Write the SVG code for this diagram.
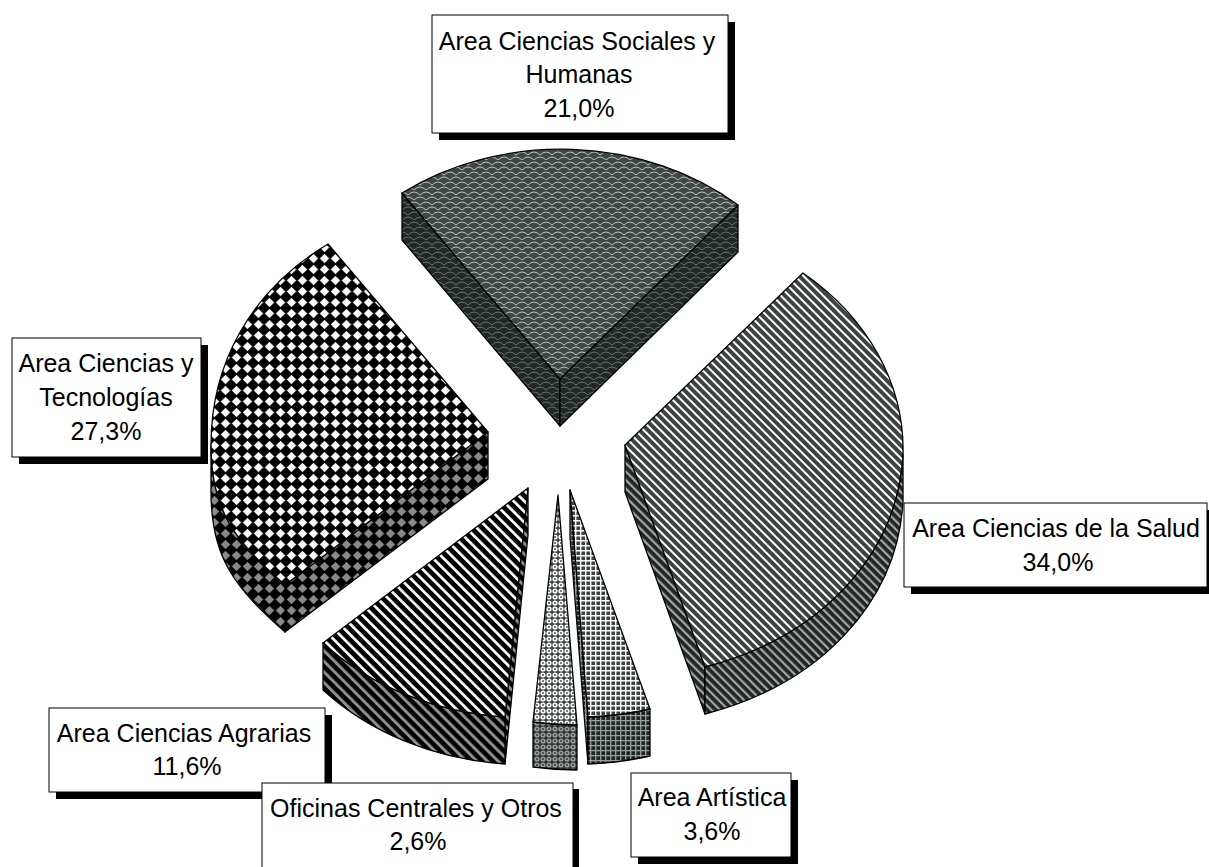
<svg xmlns="http://www.w3.org/2000/svg" width="1209" height="867" viewBox="0 0 1209 867">
<style>
.edge{stroke:#000;stroke-width:1.3;stroke-linejoin:round}
.box{fill:#fff;stroke:#000;stroke-width:1}
.shadow{fill:#000}
.lbl{font-family:"Liberation Sans",Arial,sans-serif;font-size:25px;fill:#000;text-anchor:middle}
</style>
<defs>
<pattern id="socTop" width="12" height="10" patternUnits="userSpaceOnUse">
<rect width="12" height="10" fill="#3f4745"/>
<path d="M0 5 Q6 -1 12 5 M-6 10 Q0 4 6 10 M6 10 Q12 4 18 10" fill="none" stroke="#c8cccb" stroke-width="0.9"/>
</pattern>
<pattern id="socSide" width="12" height="10" patternUnits="userSpaceOnUse">
<rect width="12" height="10" fill="#212927"/>
<path d="M0 5 Q6 -1 12 5 M-6 10 Q0 4 6 10 M6 10 Q12 4 18 10" fill="none" stroke="#6f7674" stroke-width="0.9"/>
</pattern>
<pattern id="salTop" width="6" height="6" patternUnits="userSpaceOnUse" patternTransform="rotate(-45)">
<rect width="6" height="6" fill="#3c4442"/><rect width="2" height="6" fill="#fff"/>
</pattern>
<pattern id="salSide" width="6" height="6" patternUnits="userSpaceOnUse" patternTransform="rotate(-45)">
<rect width="6" height="6" fill="#1f2725"/><rect width="2.2" height="6" fill="#a3a6a5"/>
</pattern>
<pattern id="agrTop" width="7.5" height="7.5" patternUnits="userSpaceOnUse" patternTransform="rotate(-45)">
<rect width="7.5" height="7.5" fill="#000"/><rect width="2.7" height="7.5" fill="#fff"/>
</pattern>
<pattern id="agrSide" width="7.5" height="7.5" patternUnits="userSpaceOnUse" patternTransform="rotate(-45)">
<rect width="7.5" height="7.5" fill="#000"/><rect width="3" height="7.5" fill="#8f8f8f"/>
</pattern>
<pattern id="tecTop" width="11" height="11" patternUnits="userSpaceOnUse">
<rect width="11" height="11" fill="#000"/>
<polygon points="5.5,1.2 9.8,5.5 5.5,9.8 1.2,5.5" fill="#fff" stroke="#fff" stroke-width="0.8" stroke-linejoin="round"/>
</pattern>
<pattern id="tecSide" width="11" height="11" patternUnits="userSpaceOnUse">
<rect width="11" height="11" fill="#000"/>
<polygon points="5.5,1.2 9.8,5.5 5.5,9.8 1.2,5.5" fill="#8a8a8a" stroke="#8a8a8a" stroke-width="0.8" stroke-linejoin="round"/>
</pattern>
<pattern id="artTop" width="5" height="5" patternUnits="userSpaceOnUse">
<rect width="5" height="5" fill="#3c4442"/>
<path d="M0 0.7 H5 M0.7 0 V5" stroke="#fff" stroke-width="1.4"/>
</pattern>
<pattern id="artSide" width="5" height="5" patternUnits="userSpaceOnUse">
<rect width="5" height="5" fill="#1f2725"/>
<path d="M0 0.7 H5 M0.7 0 V5" stroke="#9a9e9d" stroke-width="1.3"/>
</pattern>
<pattern id="ofiTop" width="6" height="6" patternUnits="userSpaceOnUse">
<rect width="6" height="6" fill="#3c4442"/>
<circle cx="3" cy="3" r="2.6" fill="#fff"/><circle cx="3" cy="3" r="0.9" fill="#3c4442"/>
</pattern>
<pattern id="ofiSide" width="6" height="6" patternUnits="userSpaceOnUse">
<rect width="6" height="6" fill="#2a3230"/>
<circle cx="3" cy="3" r="2.6" fill="#9a9d9c"/><circle cx="3" cy="3" r="0.9" fill="#2a3230"/>
</pattern>
</defs>
<rect width="1209" height="867" fill="#fff"/>

<g id="slice-sociales">
<path class="edge" fill="url(#socSide)" d="M402 193 L402 240 L560 426 L560 379 Z"/>
<path class="edge" fill="url(#socSide)" d="M560 379 L560 426 L738 252 L738 205 Z"/>
<path class="edge" fill="url(#socTop)" d="M560 379 L402 193 A270 228 0 0 1 738 205 Z"/>
</g>

<g id="slice-salud">
<path class="edge" fill="url(#salSide)" d="M625 445 L625 492 L705 714 L705 667 Z"/>
<path class="edge" fill="url(#salSide)" d="M903 455 L903 502 C897 603 820 684 705 714 L705 667 C820 637 897 556 903 455 Z"/>
<path class="edge" fill="url(#salTop)" d="M625 445 L803 273 A278 230 0 0 1 903 455 C897 556 820 637 705 667 Z"/>
</g>

<g id="slice-tecnologias">
<path class="edge" fill="url(#tecSide)" d="M488 432 L488 479 L285 632 L285 585 Z"/>
<path class="edge" fill="url(#tecSide)" d="M211 445 L211 492 C211 557 234 587 285 632 L285 585 C234 540 211 510 211 445 Z"/>
<path class="edge" fill="url(#tecTop)" d="M488 432 L328 244 C250 291 211 364 211 445 C211 510 234 540 285 585 Z"/>
</g>

<g id="slice-agrarias">
<path class="edge" fill="url(#agrSide)" d="M528 488 L528 535 L505 764 L505 717 Z"/>
<path class="edge" fill="url(#agrSide)" d="M323 643 L323 690 A276 231 0 0 0 505 764 L505 717 A276 231 0 0 1 323 643 Z"/>
<path class="edge" fill="url(#agrTop)" d="M528 488 L323 643 A276 231 0 0 0 505 717 Z"/>
</g>

<g id="slice-oficinas">
<path class="edge" fill="url(#ofiSide)" d="M533 722 L533 767 A276 231 0 0 0 577 770 L577 725 A276 231 0 0 1 533 722 Z"/>
<path class="edge" fill="url(#ofiTop)" d="M558 495 L533 722 A276 231 0 0 0 577 725 Z"/>
</g>

<g id="slice-artistica">
<path class="edge" fill="url(#artSide)" d="M570 490 L570 537 L588 764 L588 717 Z"/>
<path class="edge" fill="url(#artSide)" d="M588 717 L588 764 A276 231 0 0 0 650 756 L650 709 A276 231 0 0 1 588 717 Z"/>
<path class="edge" fill="url(#artTop)" d="M570 490 L588 717 A276 231 0 0 0 650 709 Z"/>
</g>

<g id="connectors"></g>

<g id="label-sociales">
<rect class="shadow" x="439" y="22" width="296" height="118"/>
<rect class="box" x="432" y="15" width="296" height="118"/>
<text class="lbl" x="577" y="50">Area Ciencias Sociales y</text>
<text class="lbl" x="579" y="83">Humanas</text>
<text class="lbl" x="579" y="117">21,0%</text>
</g>

<g id="label-tecnologias">
<rect class="shadow" x="19" y="345" width="189" height="119"/>
<rect class="box" x="12" y="338" width="189" height="119"/>
<text class="lbl" x="106" y="372">Area Ciencias y</text>
<text class="lbl" x="106" y="406">Tecnologías</text>
<text class="lbl" x="106" y="440">27,3%</text>
</g>

<g id="label-salud">
<rect class="shadow" x="911" y="510" width="303" height="84"/>
<rect class="box" x="904" y="503" width="303" height="84"/>
<text class="lbl" x="1056" y="537">Area Ciencias de la Salud</text>
<text class="lbl" x="1058" y="571">34,0%</text>
</g>

<g id="label-agrarias">
<rect class="shadow" x="56" y="715" width="276" height="84"/>
<rect class="box" x="49" y="708" width="276" height="84"/>
<text class="lbl" x="184" y="742">Area Ciencias Agrarias</text>
<text class="lbl" x="187" y="775">11,6%</text>
</g>

<g id="label-oficinas">
<rect class="shadow" x="268" y="789" width="311" height="90"/>
<rect class="box" x="262" y="783" width="311" height="90"/>
<text class="lbl" x="416" y="817">Oficinas Centrales y Otros</text>
<text class="lbl" x="418" y="850">2,6%</text>
</g>

<g id="label-artistica">
<rect class="shadow" x="638" y="780" width="160" height="84"/>
<rect class="box" x="631" y="773" width="160" height="84"/>
<text class="lbl" x="712" y="806">Area Artística</text>
<text class="lbl" x="712" y="840">3,6%</text>
</g>
</svg>
